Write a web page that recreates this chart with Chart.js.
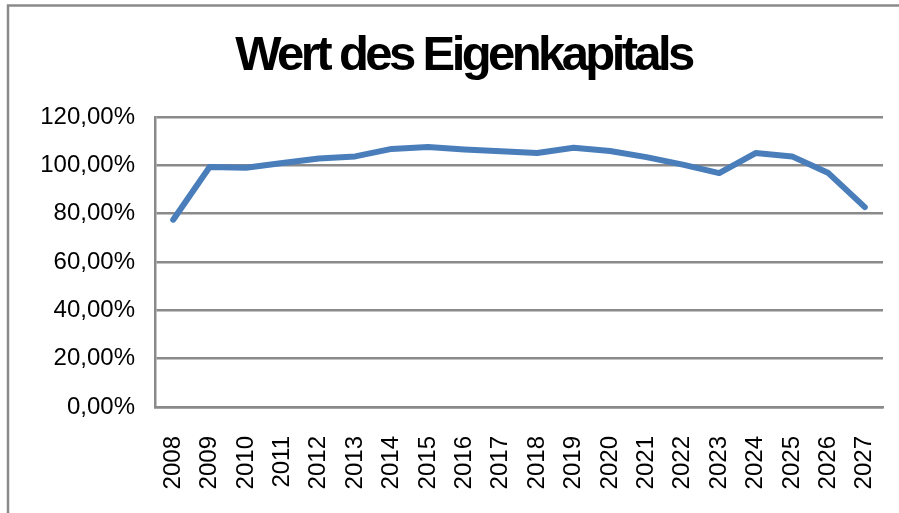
<!DOCTYPE html>
<html>
<head>
<meta charset="utf-8">
<script src="https://cdn.jsdelivr.net/npm/chart.js@4"></script>
<style>
  html, body { margin: 0; padding: 0; background: #fff; }
  #wrap { width: 899px; height: 513px; position: relative; }
</style>
</head>
<body>
<div id="wrap"><canvas id="c" width="899" height="513"></canvas></div>
<script>
const titleText = 'Wert des Eigenkapitals';
const years = ['2008','2009','2010','2011','2012','2013','2014','2015','2016','2017',
               '2018','2019','2020','2021','2022','2023','2024','2025','2026','2027'];
const equityValue = [77.5, 99.3, 99.0, 101.0, 102.8, 103.7, 106.8, 107.6, 106.6, 105.8,
                     105.1, 107.3, 105.9, 103.4, 100.3, 96.8, 105.1, 103.7, 96.8, 82.7];
const yTickValues = [0, 20, 40, 60, 80, 100, 120];
const yTickLabels = ['0,00%', '20,00%', '40,00%', '60,00%', '80,00%', '100,00%', '120,00%'];

const GRAY = '#8a8a8a';
const FONT = '"Liberation Sans", Arial, sans-serif';

const framePlugin = {
  id: 'frameAndTitle',
  beforeDraw(chart) {
    const ctx = chart.ctx;
    ctx.save();
    ctx.strokeStyle = GRAY;
    ctx.lineWidth = 2.5;
    ctx.beginPath();
    ctx.moveTo(8, 513);
    ctx.lineTo(8, 5.5);
    ctx.lineTo(899, 5.5);
    ctx.stroke();
    ctx.restore();
  },
  afterDraw(chart) {
    const ctx = chart.ctx;
    ctx.save();
    ctx.font = 'bold 49px ' + FONT;
    ctx.fillStyle = '#000';
    if ('letterSpacing' in ctx) ctx.letterSpacing = '-3.6px';
    ctx.textAlign = 'left';
    ctx.textBaseline = 'alphabetic';
    const w = ctx.measureText(titleText).width;
    ctx.fillText(titleText, 463.5 - w / 2, 70);
    ctx.restore();
  }
};

new Chart(document.getElementById('c'), {
  type: 'line',
  data: {
    labels: years,
    datasets: [{
      data: equityValue,
      borderColor: '#4a7ebb',
      borderWidth: 6,
      borderJoinStyle: 'round',
      borderCapStyle: 'round',
      pointRadius: 0,
      tension: 0,
      fill: false
    }]
  },
  options: {
    responsive: false,
    animation: false,
    events: [],
    layout: { padding: { top: 117, right: 16, left: 0, bottom: 0 } },
    plugins: {
      legend: { display: false },
      title: { display: false },
      tooltip: { enabled: false }
    },
    scales: {
      x: {
        offset: true,
        grid: { display: false, drawTicks: false },
        border: { display: true, color: GRAY, width: 2.5 },
        ticks: {
          color: '#000',
          font: { family: FONT, size: 24 },
          maxRotation: 90,
          minRotation: 90,
          padding: 29,
          autoSkip: false
        },
        afterFit(s) { s.height = 106; s.paddingLeft = 0; s.paddingRight = 0; }
      },
      y: {
        min: 0,
        max: 120,
        afterBuildTicks(s) { s.ticks = yTickValues.map(v => ({ value: v })); },
        grid: { color: GRAY, lineWidth: 2.5, drawTicks: false },
        border: { display: true, color: GRAY, width: 2.5 },
        ticks: {
          color: '#000',
          font: { family: FONT, size: 24 },
          padding: 20,
          callback(v) {
            const i = yTickValues.indexOf(v);
            return i >= 0 ? yTickLabels[i] : '';
          }
        },
        afterFit(s) { s.width = 155; s.paddingTop = 0; s.paddingBottom = 0; }
      }
    }
  },
  plugins: [framePlugin]
});
</script>
</body>
</html>
